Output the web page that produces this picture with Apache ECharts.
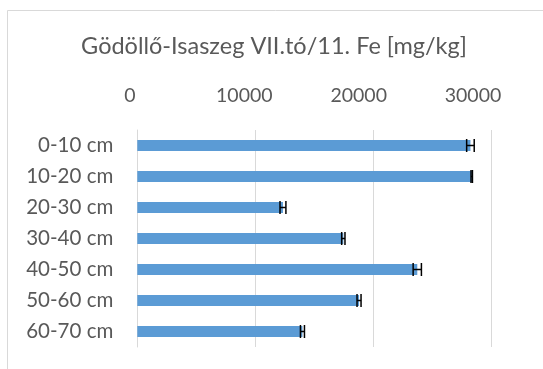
<!DOCTYPE html>
<html>
<head>
<meta charset="utf-8">
<script src="https://cdn.jsdelivr.net/npm/echarts@6/dist/echarts.min.js"></script>
<style>
  html, body { margin: 0; padding: 0; background: #ffffff; }
  #chart { width: 543px; height: 369px; }
</style>
</head>
<body>
<div id="chart"></div>
<script>
// Soil depth layers (top to bottom)
const depths = ['0-10 cm', '10-20 cm', '20-30 cm', '30-40 cm', '40-50 cm', '50-60 cm', '60-70 cm'];
// Mean Fe content [mg/kg] per layer
const feMean = [28200, 28310, 12330, 17440, 23700, 18770, 13980];
// Error (± mg/kg) per layer
const feErr = [320, 60, 250, 140, 350, 170, 170];
// Axis tick labels
const tickValues = [0, 10000, 20000, 30000];

const FONT = 'Lato, "Open Sans", sans-serif';
const TEXT_COLOR = '#595959';
const GRID_COLOR = '#d9d9d9';

const chart = echarts.init(document.getElementById('chart'), null, { renderer: 'canvas' });

const errData = depths.map((d, i) => [feMean[i] - feErr[i], feMean[i] + feErr[i], i]);

chart.setOption({
  animation: false,
  backgroundColor: '#ffffff',
  title: {
    text: 'Gödöllő-Isaszeg VII.tó/11. Fe [mg/kg]',
    left: 269,
    top: 29,
    textAlign: 'center',
    textStyle: { fontFamily: FONT, fontSize: 23.5, fontWeight: 'normal', color: TEXT_COLOR }
  },
  graphic: [{
    type: 'polyline',
    shape: { points: [[7.5, 369], [7.5, 10.5], [543, 10.5]] },
    style: { stroke: GRID_COLOR, fill: null, lineWidth: 1 },
    silent: true
  }],
  grid: [
    // plotting area
    { left: 137.3, top: 130, width: 354.4, height: 217, containLabel: false },
    // tick-label strip (labels sit a little tighter than the gridlines)
    { left: 130, top: 130, width: 343, height: 217, containLabel: false }
  ],
  xAxis: [{
    gridIndex: 0,
    type: 'value',
    position: 'top',
    min: 0,
    max: 30000,
    interval: 10000,
    axisLine: { show: false },
    axisTick: { show: false },
    axisLabel: { show: false },
    splitLine: { show: true, lineStyle: { color: GRID_COLOR, width: 1 } }
  }, {
    gridIndex: 1,
    type: 'value',
    position: 'top',
    min: 0,
    max: 30000,
    interval: 10000,
    axisLine: { show: false },
    axisTick: { show: false },
    splitLine: { show: false },
    axisLabel: {
      customValues: tickValues,
      formatter: function (v) { return String(v); },
      fontFamily: FONT,
      fontSize: 19.5,
      color: TEXT_COLOR,
      margin: 24
    }
  }],
  yAxis: [{
    gridIndex: 0,
    type: 'category',
    inverse: true,
    data: depths,
    axisLine: { show: true, lineStyle: { color: GRID_COLOR, width: 1 } },
    axisTick: { show: false },
    axisLabel: { fontFamily: FONT, fontSize: 20.5, color: TEXT_COLOR, margin: 24 },
    splitLine: { show: false }
  }, {
    gridIndex: 1,
    type: 'category',
    inverse: true,
    data: depths,
    show: false
  }],
  series: [{
    type: 'bar',
    xAxisIndex: 0,
    yAxisIndex: 0,
    data: feMean,
    barWidth: 11,
    itemStyle: { color: '#5b9bd5' }
  }, {
    type: 'custom',
    xAxisIndex: 0,
    yAxisIndex: 0,
    data: errData,
    encode: { x: [0, 1], y: 2 },
    renderItem: function (params, api) {
      const y = api.value(2);
      const p0 = api.coord([api.value(0), y]);
      const p1 = api.coord([api.value(1), y]);
      const h = 6.5;
      const style = { stroke: '#000000', lineWidth: 1.5 };
      return {
        type: 'group',
        children: [
          { type: 'line', shape: { x1: p0[0], y1: p0[1], x2: p1[0], y2: p1[1] }, style: style },
          { type: 'line', shape: { x1: p0[0], y1: p0[1] - h, x2: p0[0], y2: p0[1] + h }, style: style },
          { type: 'line', shape: { x1: p1[0], y1: p1[1] - h, x2: p1[0], y2: p1[1] + h }, style: style }
        ]
      };
    },
    z: 5
  }]
});
</script>
</body>
</html>
